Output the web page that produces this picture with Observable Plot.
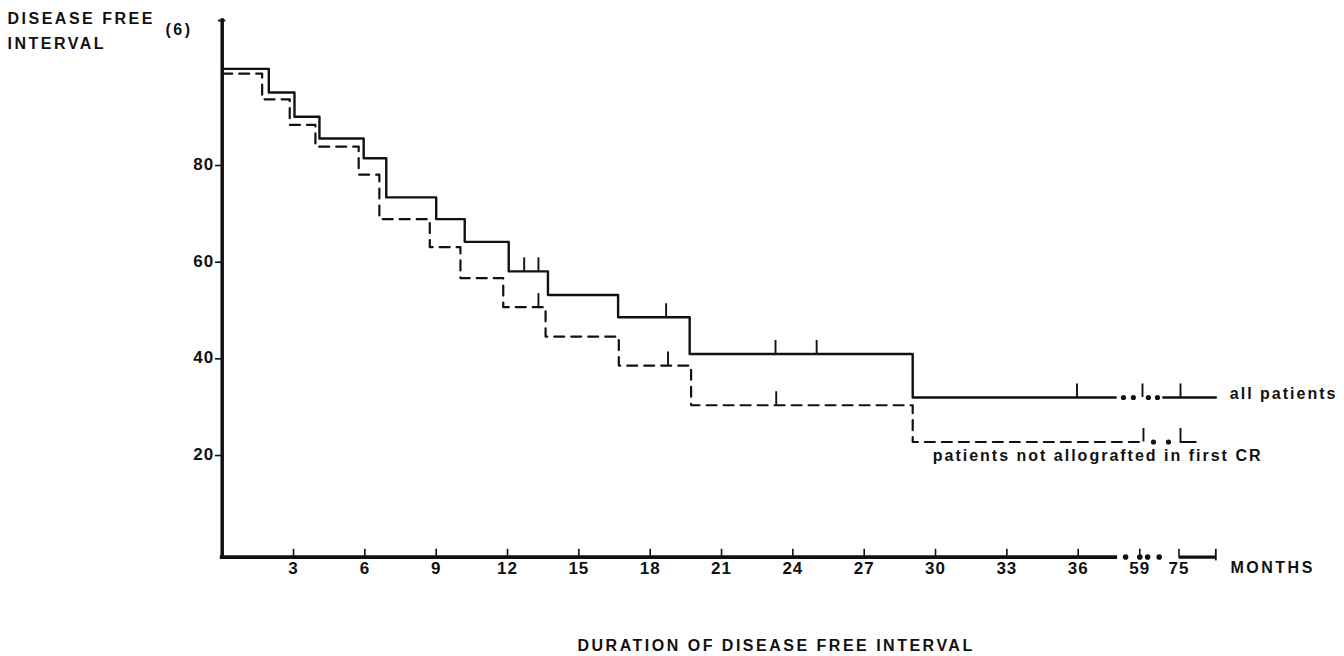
<!DOCTYPE html>
<html>
<head>
<meta charset="utf-8">
<script src="https://cdn.jsdelivr.net/npm/d3@7"></script>
<script src="https://cdn.jsdelivr.net/npm/@observablehq/plot@0.6"></script>
<style>
  html, body { margin: 0; padding: 0; background: #fff; }
  #chart svg { display: block; font-family: "Liberation Sans", Arial, Helvetica, sans-serif; }
  #chart text { letter-spacing: 2.5px; }
</style>
</head>
<body>
<div id="chart"></div>
<script>
// ---- Data (months, disease-free %) ----
// all patients (solid)
const allMonths = [0, 1.96, 3.04, 4.09, 5.95, 6.9, 9.0, 10.2, 12.05, 13.7, 16.65, 19.66, 29.04, 50];
const allValues = [100, 95.1, 90.1, 85.6, 81.5, 73.4, 68.9, 64.2, 58.1, 53.2, 48.6, 41.0, 32, 32];
const allTailMonths = [68.6, 90];
const allTailValues = [32, 32];
const allCensored = [12.7, 13.3, 18.67, 23.27, 25.0, 35.95, 60.1, 75.6];
const allDots = [52.9, 56.6, 62.5, 66.2];

// patients not allografted in first CR (dashed)
const notMonths = [0, 1.68, 2.84, 3.92, 5.74, 6.61, 8.73, 10.02, 11.82, 13.6, 16.68, 19.72, 29.04, 60.5];
const notValues = [99, 93.7, 88.4, 83.9, 78.1, 68.9, 63.1, 56.7, 50.7, 44.6, 38.6, 30.4, 22.8, 22.8];
const notTailMonths = [75.6, 81.8];
const notTailValues = [22.8, 22.8];
const notCensored = [13.3, 18.75, 23.3, 60.5, 75.6];
const notDots = [64.6, 70.7];

// axes
const xTicks = [3, 6, 9, 12, 15, 18, 21, 24, 27, 30, 33, 36, 59, 75];
const yTicks = [20, 40, 60, 80];
const axisDots = [53.7, 59, 62.2, 66.9];
const xBreakDomain = [0, 36, 59, 90];

// labels
const seriesLabels = ["all patients", "patients not allografted in first CR"];

// ---- helpers ----
const pairs = (ms, vs) => ms.map((m, i) => ({m, v: vs[i]}));
function levelAt(ms, vs, t) {
  let v = vs[0];
  for (let i = 0; i < ms.length; i++) if (ms[i] <= t) v = vs[i];
  return v;
}
const allAt = t => levelAt(allMonths, allValues, t);
const notAt = t => levelAt(notMonths, notValues, t);
const black = "#111";

const plot = Plot.plot({
  width: 1344,
  height: 656,
  margin: 0,
  x: {type: "linear", domain: xBreakDomain, range: [221.7, 1077.7, 1139.3, 1215.3], axis: null},
  y: {type: "linear", domain: [0, 110], range: [551.7, 20], axis: null},
  marks: [
    // y axis
    Plot.ruleX([0], {y1: -1, y2: 110, stroke: black, strokeWidth: 3.5, strokeLinecap: "square"}),
    Plot.ruleY([110], {x1: -0.15, x2: 0.15, stroke: black, strokeWidth: 2}),
    Plot.ruleY(yTicks, {x1: -0.28, x2: 0, stroke: black, strokeWidth: 1.6}),
    // x axis
    Plot.ruleY([-1], {x1: 0, x2: 50, stroke: black, strokeWidth: 3.8, strokeLinecap: "square"}),
    Plot.ruleY([-1], {x1: 75, x2: 90, stroke: black, strokeWidth: 3.2}),
    Plot.ruleX(xTicks, {x: d => d, y1: -1, y2: 0.6, stroke: black, strokeWidth: 1.6}),
    Plot.ruleX([90], {y1: 0.6, y2: -1.8, stroke: black, strokeWidth: 1.8}),
    Plot.dot(axisDots, {x: d => d, y: -1, r: 2.8, fill: black, stroke: null}),

    // solid curve: all patients
    Plot.line(pairs(allMonths, allValues), {x: "m", y: "v", curve: "step-after", stroke: black, strokeWidth: 2.4}),
    Plot.line(pairs(allTailMonths, allTailValues), {x: "m", y: "v", stroke: black, strokeWidth: 2.4}),
    Plot.ruleX(allCensored, {x: d => d, y1: d => allAt(d), y2: d => allAt(d) + 2.8, stroke: black, strokeWidth: 1.9}),
    Plot.dot(allDots, {x: d => d, y: d => allAt(d), r: 2.6, fill: black, stroke: null}),

    // dashed curve: patients not allografted in first CR
    Plot.line(pairs(notMonths, notValues), {x: "m", y: "v", curve: "step-after", stroke: black, strokeWidth: 2.2, strokeDasharray: "10,7"}),
    Plot.line(pairs(notTailMonths, notTailValues), {x: "m", y: "v", stroke: black, strokeWidth: 2.2}),
    Plot.ruleX(notCensored, {x: d => d, y1: d => notAt(d), y2: d => notAt(d) + 2.8, stroke: black, strokeWidth: 1.9}),
    Plot.dot(notDots, {x: d => d, y: d => notAt(d), r: 2.6, fill: black, stroke: null}),

    // tick labels
    Plot.text(xTicks, {x: d => d, y: -1, dy: 12, text: d => String(d), fontSize: 17, fontWeight: "bold", fill: black, lineAnchor: "middle"}),
    Plot.text(yTicks, {x: 0, y: d => d, dx: -8, dy: -1, text: d => String(d), textAnchor: "end", fontSize: 17, fontWeight: "bold", fill: black, lineAnchor: "middle"}),

    // series labels
    Plot.text([seriesLabels[0]], {x: 90, y: 32, dx: 14, dy: -3.5, textAnchor: "start", fontSize: 16, fontWeight: "bold", fill: black, lineAnchor: "middle"}),
    Plot.text([seriesLabels[1]], {x: 29.04, y: 22.8, dx: 20, dy: 14, textAnchor: "start", fontSize: 16, fontWeight: "bold", fill: black, lineAnchor: "middle"}),

    // titles
    Plot.text(["DISEASE FREE"], {frameAnchor: "top-left", dx: 7, dy: 18.5, textAnchor: "start", lineAnchor: "middle", fontSize: 16, fontWeight: "bold", fill: black}),
    Plot.text(["INTERVAL"], {frameAnchor: "top-left", dx: 7, dy: 43.5, textAnchor: "start", lineAnchor: "middle", fontSize: 16, fontWeight: "bold", fill: black}),
    Plot.text(["(6)"], {frameAnchor: "top-left", dx: 165, dy: 29.5, textAnchor: "start", lineAnchor: "middle", fontSize: 16, fontWeight: "bold", fill: black}),
    Plot.text(["MONTHS"], {frameAnchor: "top-left", dx: 1230, dy: 567, textAnchor: "start", lineAnchor: "middle", fontSize: 16, fontWeight: "bold", fill: black}),
    Plot.text(["DURATION OF DISEASE FREE INTERVAL"], {frameAnchor: "top-left", dx: 577, dy: 645, textAnchor: "start", lineAnchor: "middle", fontSize: 16, fontWeight: "bold", fill: black})
  ]
});

// per-text letter spacing (style only)
d3.select(plot).selectAll("text").each(function () {
  const t = this.textContent;
  if (seriesLabels.includes(t)) this.style.letterSpacing = "2px";
  else if (yTicks.map(String).includes(t) && this.getAttribute("text-anchor") === "end") this.style.letterSpacing = "2.5px";
  else if (/^\d+$/.test(t)) this.style.letterSpacing = "1px";
});
document.getElementById("chart").appendChild(plot);
</script>
</body>
</html>
